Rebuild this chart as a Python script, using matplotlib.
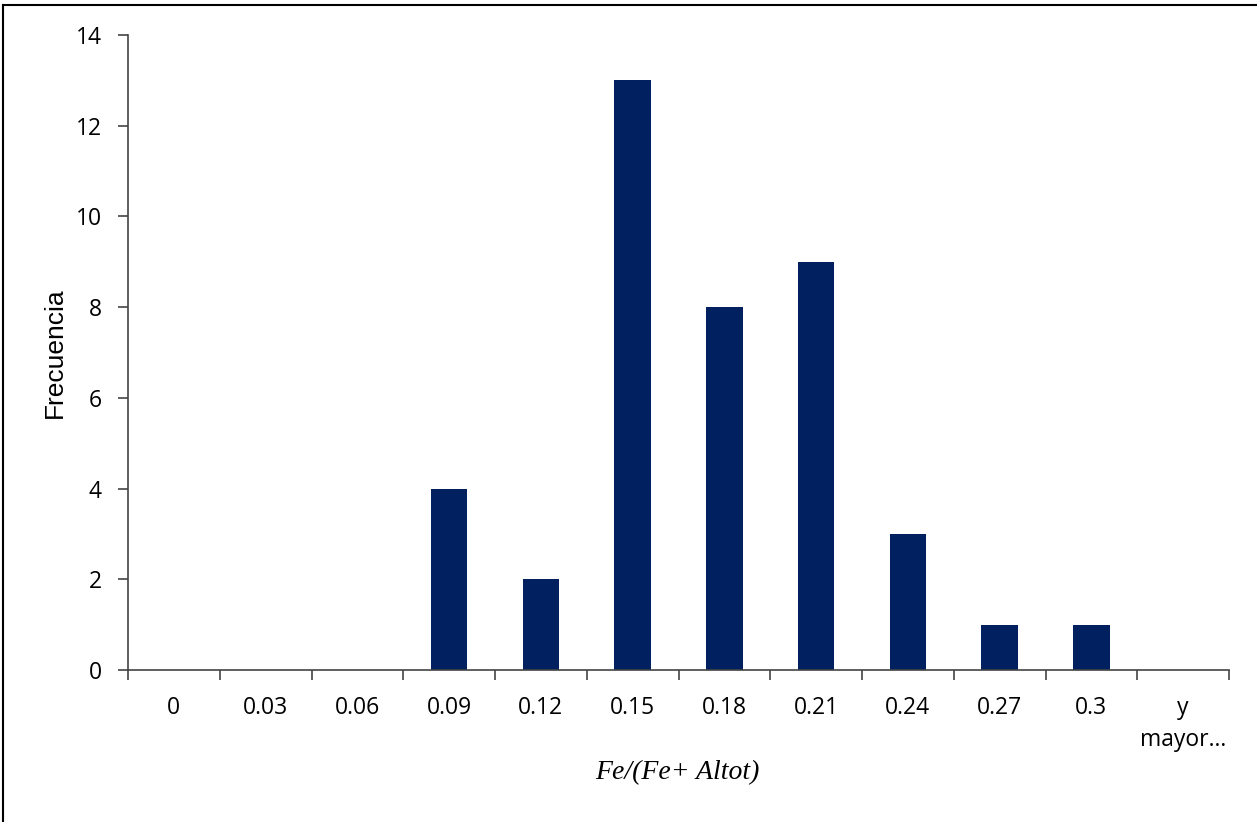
import matplotlib
matplotlib.use("Agg")
import matplotlib.pyplot as plt
from matplotlib.lines import Line2D

# Histogram of Fe/(Fe + Altot)
bins = ["0", "0.03", "0.06", "0.09", "0.12", "0.15", "0.18", "0.21",
        "0.24", "0.27", "0.3", "y\nmayor..."]
frequency = [0, 0, 0, 4, 2, 13, 8, 9, 3, 1, 1, 0]
y_ticks = [0, 2, 4, 6, 8, 10, 12, 14]

W, H = 1257, 822
fig = plt.figure(figsize=(W / 100, H / 100), dpi=100)
ax = fig.add_axes([128 / W, 1 - 670 / H, (1229 - 128) / W, (670 - 35) / H])

x = list(range(len(bins)))
ax.bar(x, frequency, width=0.4, color="#002060", zorder=2)

ax.set_xlim(-0.5, len(bins) - 0.5)
ax.set_ylim(0, 14)
ax.set_yticks(y_ticks)
ax.set_yticklabels([str(v) for v in y_ticks], fontfamily="Open Sans", fontsize=16.5)

# category labels between boundary ticks
ax.set_xticks(x)
ax.set_xticklabels(bins, fontfamily="Open Sans", fontsize=16.5, linespacing=1.45,
                   va="top")
ax.tick_params(axis="x", which="major", length=0, pad=19)
ax.set_xticks([i - 0.5 for i in range(len(bins) + 1)], minor=True)
ax.tick_params(axis="x", which="minor", length=7, width=1.2, color="#444444",
               direction="out")
ax.tick_params(axis="y", length=7, width=1.2, color="#444444", direction="out", pad=12)

for side in ("top", "right"):
    ax.spines[side].set_visible(False)
for side in ("left", "bottom"):
    ax.spines[side].set_color("#444444")
    ax.spines[side].set_linewidth(1.2)

fig.text(55 / W, 1 - 353 / H, "Frecuencia", fontfamily="Liberation Sans",
         fontsize=19, rotation=90, ha="center", va="center")
fig.text(677 / W, 1 - 773 / H, "Fe/(Fe+ Altot)", fontfamily="Liberation Serif",
         fontstyle="italic", fontsize=20, ha="center", va="center")

# chart frame (top and left edges)
fig.add_artist(Line2D([3 / W, 3 / W], [0, 1 - 5 / H], transform=fig.transFigure,
                      color="black", linewidth=1.5))
fig.add_artist(Line2D([3 / W, 1], [1 - 5 / H, 1 - 5 / H], transform=fig.transFigure,
                      color="black", linewidth=1.5))

fig.savefig("out.png", dpi=100, facecolor="white")
